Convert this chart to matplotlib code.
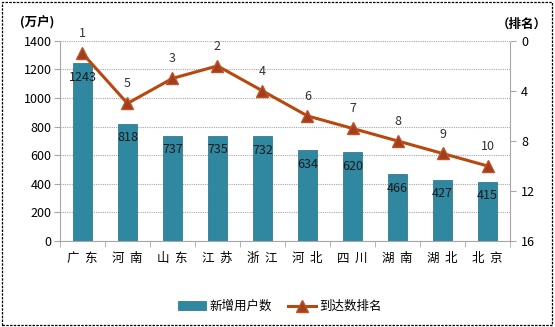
import matplotlib.pyplot as plt
import numpy as np
from matplotlib.patches import Rectangle

plt.rcParams['font.family'] = ['Noto Sans CJK SC', 'DejaVu Sans']

provinces = ['广  东', '河  南', '山  东', '江  苏', '浙  江', '河  北', '四  川', '湖  南', '湖  北', '北  京']
new_users = [1243, 818, 737, 735, 732, 634, 620, 466, 427, 415]
ranks = [1, 5, 3, 2, 4, 6, 7, 8, 9, 10]

bar_color = '#2F87A0'
line_color = '#B8490E'
grid_color = '#A6A6A6'

fig = plt.figure(figsize=(5.55, 3.27), dpi=100)
ax = fig.add_axes([0.108, 0.263, 0.811, 0.612])
ax2 = ax.twinx()

x = np.arange(len(provinces))
bars = ax.bar(x, new_users, width=0.42, color=bar_color, edgecolor='#1F6E85', linewidth=0.5, zorder=2)
for xi, v in zip(x, new_users):
    ax.annotate(str(v), (xi, v), xytext=(0, -10), textcoords='offset points',
                ha='center', va='center', fontsize=9, color='#1a1a1a', zorder=5)

ax.set_xlim(-0.5, len(provinces) - 0.5)
ax.set_ylim(0, 1400)
ax.set_yticks(range(0, 1401, 200))
ax.yaxis.grid(True, linestyle=(0, (1, 1)), color=grid_color, linewidth=0.8, zorder=0)
ax.set_axisbelow(True)
ax.set_xticks(x)
ax.set_xticklabels(provinces, fontsize=9)
ax.set_xticks(np.arange(-0.5, len(provinces)), minor=True)
ax.tick_params(axis='x', which='major', length=0, pad=8)
ax.tick_params(axis='x', which='minor', length=4, color=grid_color)
ax.tick_params(axis='y', labelsize=9, length=4, color=grid_color, pad=2)

ln, = ax2.plot(x, ranks, color=line_color, linewidth=2.2, marker='^', markersize=8,
               markerfacecolor='#A0401A', markeredgecolor='#C0502A', zorder=4, label='到达数排名')
for xi, r in zip(x, ranks):
    ax2.annotate(str(r), (xi, r), xytext=(0, 14), textcoords='offset points',
                 ha='center', va='center', fontsize=9, color='#333333')
ax2.set_ylim(16, 0)
ax2.set_yticks([0, 4, 8, 12, 16])
ax2.tick_params(axis='y', labelsize=9, length=4, color=grid_color, pad=4)

for a in (ax, ax2):
    for s in a.spines.values():
        s.set_visible(False)
for side in ('left', 'bottom', 'right'):
    ax2.spines[side].set_visible(True)
    ax2.spines[side].set_color(grid_color)
    ax2.spines[side].set_linestyle((0, (2, 1)))
    ax2.spines[side].set_linewidth(0.8)

fig.text(0.036, 0.93, '(万户)', fontsize=9, ha='left', va='center', fontweight='bold')
fig.text(0.985, 0.925, '（排名）', fontsize=9, ha='right', va='center', fontweight='bold')

fig.legend([bars, ln], ['新增用户数', '到达数排名'], loc='center', bbox_to_anchor=(0.505, 0.062),
           ncol=2, frameon=False, fontsize=9, handlelength=2.2, handletextpad=0.3,
           columnspacing=1.3)

fig.patches.append(Rectangle((0.003, 0.005), 0.992, 0.99, transform=fig.transFigure,
                             fill=False, edgecolor='black', linestyle=(0, (2, 1)), linewidth=0.9))

fig.savefig('out.png', dpi=100)
